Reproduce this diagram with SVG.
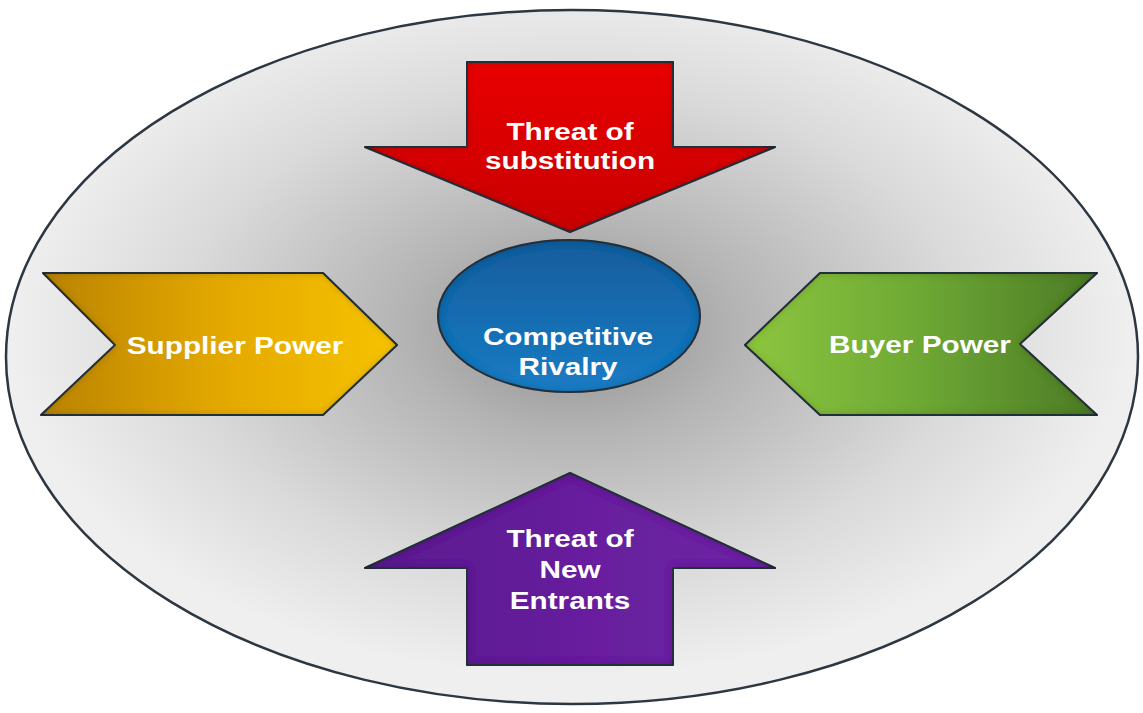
<svg xmlns="http://www.w3.org/2000/svg" width="1143" height="713" viewBox="0 0 1143 713">
  <defs>
    <radialGradient id="bgGrad" cx="571" cy="330" r="560" gradientUnits="userSpaceOnUse" gradientTransform="translate(571 330) scale(1 0.62) translate(-571 -330)">
      <stop offset="0" stop-color="#8e8e8e"/>
      <stop offset="0.3" stop-color="#b4b4b4"/>
      <stop offset="0.7" stop-color="#dadada"/>
      <stop offset="1" stop-color="#efefef"/>
    </radialGradient>
    <linearGradient id="redGrad" x1="0" y1="0" x2="0" y2="1">
      <stop offset="0" stop-color="#e80000"/>
      <stop offset="1" stop-color="#c80000"/>
    </linearGradient>
    <linearGradient id="goldGrad" x1="0" y1="0" x2="1" y2="0">
      <stop offset="0" stop-color="#b98300"/>
      <stop offset="0.5" stop-color="#e3a800"/>
      <stop offset="1" stop-color="#f7c300"/>
    </linearGradient>
    <linearGradient id="greenGrad" x1="0" y1="0" x2="1" y2="0">
      <stop offset="0" stop-color="#8dc63f"/>
      <stop offset="0.5" stop-color="#6da834"/>
      <stop offset="1" stop-color="#4c7a26"/>
    </linearGradient>
    <linearGradient id="purpleGrad" x1="0" y1="0" x2="1" y2="0">
      <stop offset="0" stop-color="#5a1a8e"/>
      <stop offset="0.5" stop-color="#661f9c"/>
      <stop offset="1" stop-color="#6e22a5"/>
    </linearGradient>
    <linearGradient id="blueGrad" x1="0" y1="0" x2="0" y2="1">
      <stop offset="0" stop-color="#125c9c"/>
      <stop offset="1" stop-color="#1b7cc4"/>
    </linearGradient>
    <filter id="inset" x="-5%" y="-5%" width="110%" height="110%">
      <feFlood flood-color="#000" flood-opacity="0.55" result="f"/>
      <feComposite in="f" in2="SourceAlpha" operator="out" result="o"/>
      <feGaussianBlur in="o" stdDeviation="4" result="b"/>
      <feComposite in="b" in2="SourceAlpha" operator="in" result="s"/>
      <feMerge><feMergeNode in="SourceGraphic"/><feMergeNode in="s"/></feMerge>
    </filter>
  </defs>
  <style>
    .shape { stroke: #2c3742; stroke-width: 2; stroke-linejoin: round; }
    .lbl { font-family: "Liberation Sans", Arial, sans-serif; font-weight: bold; font-size: 24px; fill: #ffffff; text-anchor: middle; }
  </style>

  <g id="background">
    <ellipse cx="572" cy="357" rx="566" ry="347" fill="url(#bgGrad)" stroke="#2c3742" stroke-width="2.5"/>
  </g>

  <g id="threat-substitution">
    <polygon class="shape" filter="url(#inset)" fill="url(#redGrad)" points="467,62 673,62 673,147 775,147 570,232 365,147 467,147"/>
    <g transform="translate(570 0) scale(1.24 1)">
      <text class="lbl" x="0" y="140">Threat of</text>
      <text class="lbl" x="0" y="169">substitution</text>
    </g>
  </g>

  <g id="supplier-power">
    <polygon class="shape" filter="url(#inset)" fill="url(#goldGrad)" points="43,273 323,273 397,345 323,415 41,415 115,345"/>
    <g transform="translate(235 0) scale(1.24 1)">
      <text class="lbl" x="0" y="354">Supplier Power</text>
    </g>
  </g>

  <g id="buyer-power">
    <polygon class="shape" filter="url(#inset)" fill="url(#greenGrad)" points="820,273 1097,273 1020,344 1097,415 820,415 745,345"/>
    <g transform="translate(920 0) scale(1.24 1)">
      <text class="lbl" x="0" y="353">Buyer Power</text>
    </g>
  </g>

  <g id="threat-new-entrants">
    <polygon class="shape" filter="url(#inset)" fill="url(#purpleGrad)" points="570,473 775,568 673,568 673,665 467,665 467,568 365,568"/>
    <g transform="translate(570 0) scale(1.24 1)">
      <text class="lbl" x="0" y="547">Threat of</text>
      <text class="lbl" x="0" y="578">New</text>
      <text class="lbl" x="0" y="609">Entrants</text>
    </g>
  </g>

  <g id="competitive-rivalry">
    <ellipse class="shape" filter="url(#inset)" fill="url(#blueGrad)" cx="569" cy="316" rx="131" ry="76"/>
    <g transform="translate(568 0) scale(1.24 1)">
      <text class="lbl" x="0" y="345">Competitive</text>
      <text class="lbl" x="0" y="375">Rivalry</text>
    </g>
  </g>
</svg>
